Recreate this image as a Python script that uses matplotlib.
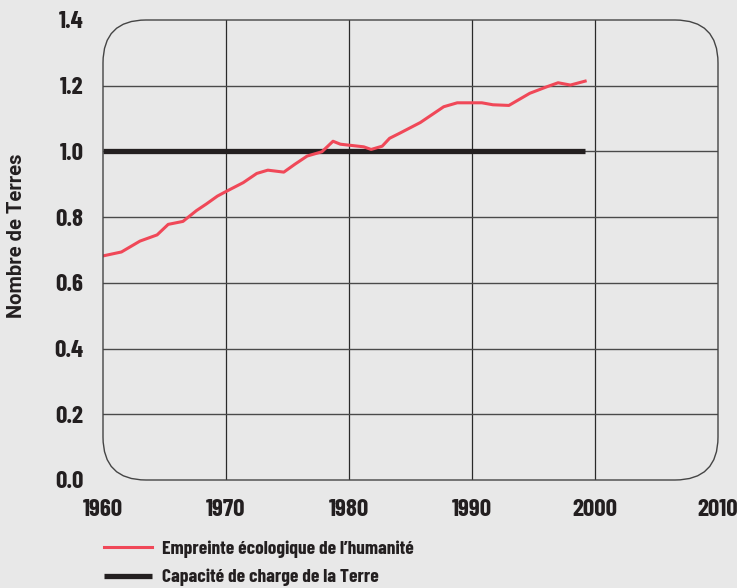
import matplotlib
matplotlib.use("Agg")
import matplotlib.pyplot as plt
from matplotlib.patches import FancyBboxPatch
from matplotlib.lines import Line2D

# Empreinte écologique
years = [1960.0, 1961.5, 1963.0, 1964.4, 1965.3, 1966.5, 1967.6, 1968.4, 1969.3,
         1970.0, 1971.4, 1972.5, 1973.4, 1974.7, 1975.6, 1976.6, 1977.8, 1978.7,
         1979.3, 1981.2, 1981.8, 1982.7, 1983.3, 1984.1, 1985.8, 1987.7, 1988.8,
         1990.8, 1991.7, 1993.0, 1994.7, 1996.1, 1997.0, 1998.0, 1999.2]
footprint = [0.682, 0.694, 0.727, 0.746, 0.778, 0.787, 0.820, 0.840, 0.864,
             0.878, 0.905, 0.933, 0.943, 0.937, 0.961, 0.986, 0.999, 1.031,
             1.022, 1.014, 1.006, 1.016, 1.040, 1.055, 1.088, 1.136, 1.148,
             1.148, 1.142, 1.140, 1.177, 1.197, 1.209, 1.202, 1.214]

capacity_years = [1960, 1999.2]
capacity = [1.0, 1.0]

xticks = [1960, 1970, 1980, 1990, 2000, 2010]
yticks = [0.0, 0.2, 0.4, 0.6, 0.8, 1.0, 1.2, 1.4]

bg = '#e8e8e8'
red = '#f04858'
black = '#231f20'
cond = ['Barlow Condensed', 'Roboto Condensed', 'Oswald', 'Liberation Sans', 'DejaVu Sans']

W, H = 737, 588
fig = plt.figure(figsize=(W / 100, H / 100), dpi=100, facecolor=bg)
ax = fig.add_axes([103 / W, (H - 480) / H, 615 / W, 460 / H])
ax.patch.set_visible(False)
for s in ax.spines.values():
    s.set_visible(False)

# rounded frame
box = FancyBboxPatch((1.03, 1.08), 6.15, 4.60,
                     boxstyle="round,pad=0,rounding_size=0.43",
                     transform=fig.dpi_scale_trans, facecolor='none',
                     edgecolor='#444444', linewidth=1.0, zorder=1)
fig.patches.append(box)

ax.set_xlim(1960, 2010)
ax.set_ylim(0, 1.4)
ax.set_xticks(xticks)
ax.set_yticks(yticks)
ax.set_xticklabels([str(x) for x in xticks])
ax.set_yticklabels([f"{y:.1f}" for y in yticks])
ax.tick_params(length=0, pad=14)
for lab in ax.get_xticklabels() + ax.get_yticklabels():
    lab.set_family(cond)
    lab.set_fontweight('bold')
    lab.set_fontsize(18)
    lab.set_color('#231f20')

for x in xticks[1:-1]:
    ax.axvline(x, color='#2a2a2a', linewidth=0.9, zorder=1)
for y in yticks[1:-1]:
    ax.axhline(y, color='#4a4a4a', linewidth=1.0, zorder=1)

ax.plot(capacity_years, capacity, color=black, linewidth=3.8,
        solid_capstyle='butt', zorder=3)
ax.plot(years, footprint, color=red, linewidth=2.2, zorder=4)

fig.text(17 / W, 1 - 236 / H, 'Nombre de Terres', rotation=90,
         ha='center', va='center', fontsize=14.5, fontweight='bold',
         family=['Roboto', 'DejaVu Sans'], color='#231f20')

handles = [Line2D([], [], color=red, linewidth=2.2),
           Line2D([], [], color=black, linewidth=3.8, solid_capstyle='butt')]
labels = ["Empreinte écologique de l’humanité", "Capacité de charge de la Terre"]
leg = fig.legend(handles, labels, loc='upper left',
                 bbox_to_anchor=(86 / W, 1 - 523 / H), frameon=False,
                 handlelength=2.5, handletextpad=0.5, labelspacing=0.55,
                 prop={'family': cond, 'weight': 'bold', 'size': 14})
for t in leg.get_texts():
    t.set_color('#231f20')

fig.savefig('out.png', dpi=100, facecolor=bg)
